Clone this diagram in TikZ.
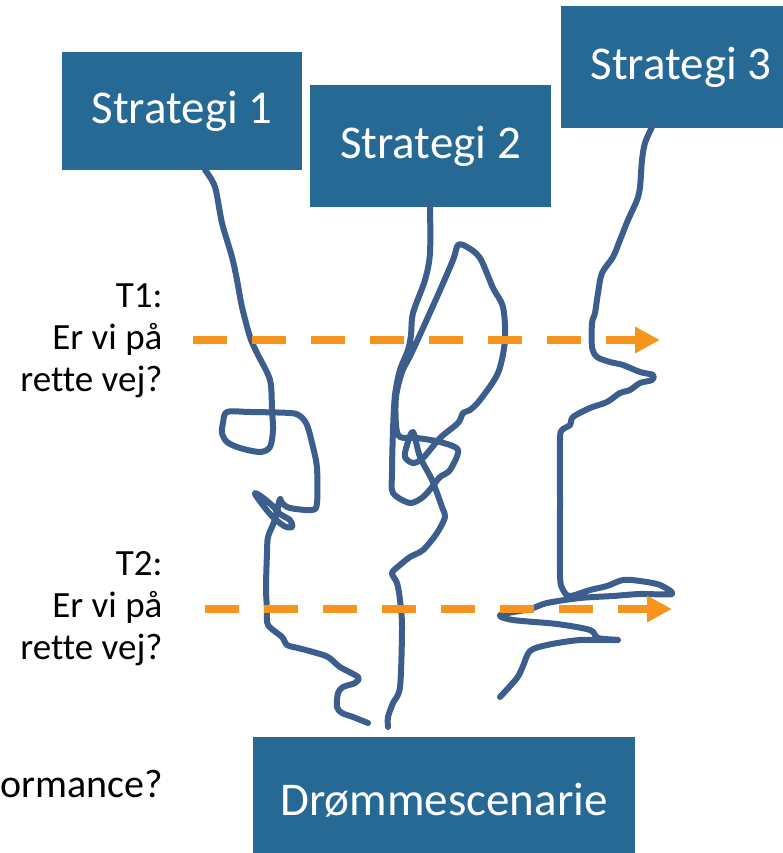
\documentclass[tikz,border=0pt]{standalone}
\usepackage{fontspec}
\setmainfont{Carlito}[Ligatures=NoCommon]
\usetikzlibrary{arrows.meta,positioning}
\definecolor{boxblue}{RGB}{38,105,148}
\definecolor{pathblue}{RGB}{59,94,140}
\definecolor{checkorange}{RGB}{247,148,30}
\tikzset{
  strategy/.style={fill=boxblue, text=white, inner sep=0pt, font=\fontsize{47}{56}\selectfont},
  route/.style={draw=pathblue, line width=6pt, line cap=round, line join=round},
  checkpoint/.style={draw=checkorange, line width=8pt, dash pattern=on 34pt off 25pt, -{Triangle[length=25pt,width=25pt]}},
  question/.style={align=right, anchor=east, font=\fontsize{37}{42}\selectfont}
}

\begin{document}
\begin{tikzpicture}[x=1pt,y=-1pt]
            \useasboundingbox (0,0) rectangle (782,853);
            % boxes
            \node[strategy, minimum width=240pt, minimum height=118pt] (s1) at (182,111) {Strategi 1};
            \node[strategy, minimum width=241pt, minimum height=121pt] (s2) at (430.5,146) {Strategi 2};
            \node[strategy, minimum width=240pt, minimum height=122pt] (s3) at (681,67) {Strategi 3};
            \node[strategy, minimum width=382pt, minimum height=126pt] (dream) at (444,800) {Drømmescenarie};
            % texts on the left
            \node[question] (q1) at (166,341) {T1:\\Er vi på\\rette vej?};
            \node[question] (q2) at (166,609) {T2:\\Er vi på\\rette vej?};
            \node[anchor=base west, inner sep=0pt, font=\fontsize{40}{46}\selectfont] (perf) at (0.5,797) {ormance?};
            % routes
            \draw[route] plot [smooth, tension=0.5] coordinates {(205,170) (215,187) (222,223) (232,257) (237,280) (242,307) (250,337) (257,353) (270,380) (272,410) (273,430) (270,447) (260,452) (240,448) (227,442) (222,433) (223,423) (227,412) (250,412) (290,413) (300,416) (307,425) (313,447) (317,468) (317,503) (312,510) (290,508) (282,503) (280,499) (278,512) (290,520) (292,527) (284,526) (270,514) (255,494) (262,497) (276,510) (274,522) (268,537) (267,553) (266,587) (267,610) (268,625) (282,637) (287,645) (298,648) (313,652) (328,657) (340,667) (358,677) (355,683) (343,687) (338,693) (337,707) (342,713) (353,717) (368,723)};
            \draw[route] plot [smooth, tension=0.5] coordinates {(430,205) (430,253) (425,280) (413,313) (411,335) (408,350) (400,370) (395,395) (393,430) (392,473) (393,493) (410,503) (423,497) (432,487) (440,477) (450,470) (458,450) (440,442) (417,438) (400,437) (396,425) (396,397) (402,372) (412,352) (437,297) (453,260) (458,245) (467,247) (480,258) (493,288) (503,307) (505,340) (498,373) (480,400) (470,410) (463,413) (458,423) (440,438) (423,458) (413,463) (405,457) (407,445) (413,432) (420,457) (432,480) (442,507) (445,517) (437,533) (423,550) (410,557) (400,565) (392,573) (397,583) (400,600) (402,627) (400,687) (393,703) (388,717) (388,727)};
            \draw[route] plot [smooth, tension=0.5] coordinates {(652,127) (645,143) (642,160) (640,187) (637,200) (628,220) (620,240) (613,257) (602,273) (598,293) (595,313) (592,323) (592,347) (597,357) (610,362) (623,365) (640,372) (653,375) (652,380) (640,383) (630,390) (620,393) (607,402) (590,408) (573,417) (570,425) (562,430) (560,440) (560,502) (560,575) (563,590) (570,596) (590,590) (607,586) (623,580) (640,581) (660,585) (672,594) (640,594) (613,596) (580,598) (547,603) (530,609) (500,615) (513,620) (557,624) (590,630) (598,638) (618,640) (580,640) (547,645) (530,651) (523,666) (517,678) (500,697)};
            % check points
            \coordinate (t1a) at (193,340);
            \coordinate (t1b) at (660,340);
            \coordinate (t2a) at (205,609);
            \coordinate (t2b) at (672,609);
            \draw[checkpoint] (t1a) -- (t1b);
            \draw[checkpoint] (t2a) -- (t2b);
        \end{tikzpicture}
\end{document}
